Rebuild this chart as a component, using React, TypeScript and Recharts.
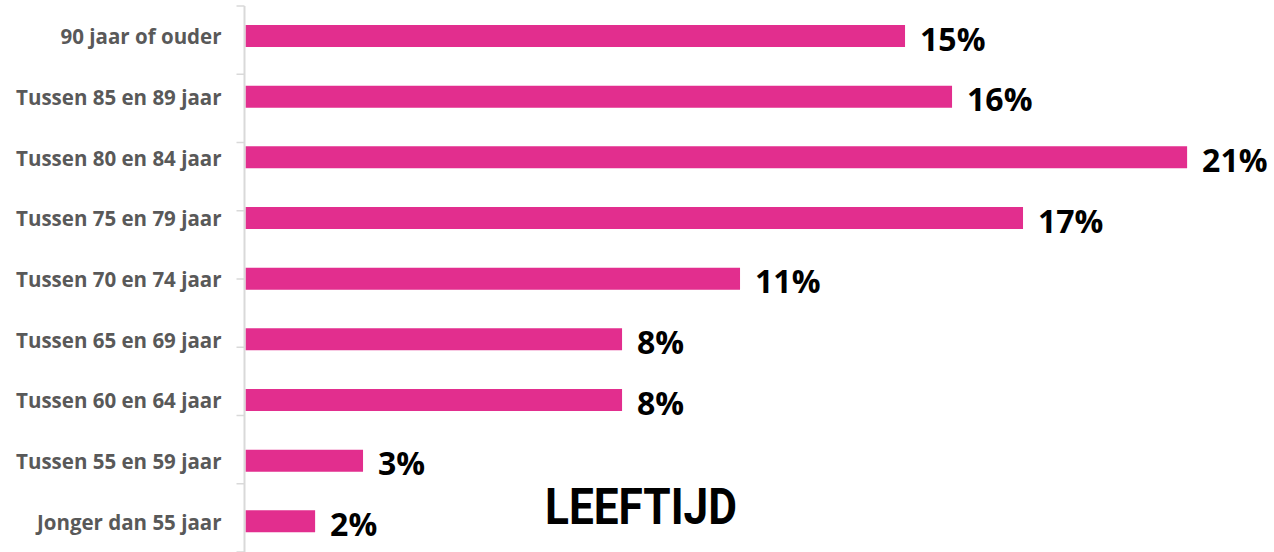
import React from 'react';
import { BarChart, Bar, XAxis, YAxis, LabelList } from 'recharts';

// leeftijdscategorieën, van boven naar beneden
const categories = [
    '90 jaar of ouder',
    'Tussen 85 en 89 jaar',
    'Tussen 80 en 84 jaar',
    'Tussen 75 en 79 jaar',
    'Tussen 70 en 74 jaar',
    'Tussen 65 en 69 jaar',
    'Tussen 60 en 64 jaar',
    'Tussen 55 en 59 jaar',
    'Jonger dan 55 jaar',
];

// aandeel in procent
const shares = [14.59, 15.63, 20.83, 17.2, 10.94, 8.33, 8.33, 2.6, 1.54];

const data = categories.map((name, i) => ({ name, value: shares[i] }));
const boundaryTicks = Array.from({ length: categories.length + 1 }, (_, i) => i);

const PINK = '#E22E8E';
const FONT = '"Open Sans", sans-serif';

const CategoryTick = (props: any) => {
    const { x, y, payload } = props;
    return (
        <text x={x} y={y} textAnchor="end" dominantBaseline="central" fill="#595959"
            fontFamily={FONT} fontWeight={700} fontSize={20.5}>
            {payload.value}
        </text>
    );
};

const EmptyTick = () => <g />;

const ValueLabel = (props: any) => {
    const { x, y, width, height, value } = props;
    return (
        <text x={x + width + 15} y={y + height / 2 + 2} dominantBaseline="central" fill="#000"
            fontFamily={FONT} fontWeight={700} fontSize={32}>
            {`${Math.round(value)}%`}
        </text>
    );
};

export default function App() {
    return (
        <div style={{ position: 'absolute', left: 0, top: 0, width: 1274, height: 552, background: '#fff', overflow: 'hidden' }}>
            <BarChart
                width={1274}
                height={552}
                data={data}
                layout="vertical"
                margin={{ top: 6, right: 34, bottom: 0, left: 0 }}
                barCategoryGap={0}
            >
                <XAxis type="number" domain={[0, 22]} hide />
                <YAxis
                    yAxisId="cat"
                    type="category"
                    dataKey="name"
                    width={1}
                    axisLine={false}
                    tickLine={false}
                    tickMargin={16}
                    tickSize={8}
                    tick={<CategoryTick />}
                    interval={0}
                />
                <YAxis
                    yAxisId="grid"
                    type="number"
                    domain={[0, categories.length]}
                    allowDataOverflow
                    ticks={boundaryTicks}
                    interval={0}
                    width={244.5}
                    tick={<EmptyTick />}
                    tickSize={8}
                    axisLine={{ stroke: '#D9D9D9', strokeWidth: 2 }}
                    tickLine={{ stroke: '#D9D9D9', strokeWidth: 1.5 }}
                />
                <Bar yAxisId="cat" dataKey="value" fill={PINK} barSize={22} isAnimationActive={false}>
                    <LabelList dataKey="value" content={<ValueLabel />} />
                </Bar>
            </BarChart>
            <svg width={1274} height={552} style={{ position: 'absolute', left: 0, top: 0, pointerEvents: 'none' }}>
                <text x={545} y={524} textLength={192} lengthAdjust="spacingAndGlyphs" fill="#000"
                    fontFamily='Roboto, sans-serif' fontWeight={700} fontSize={50}>
                    LEEFTIJD
                </text>
            </svg>
        </div>
    );
}
